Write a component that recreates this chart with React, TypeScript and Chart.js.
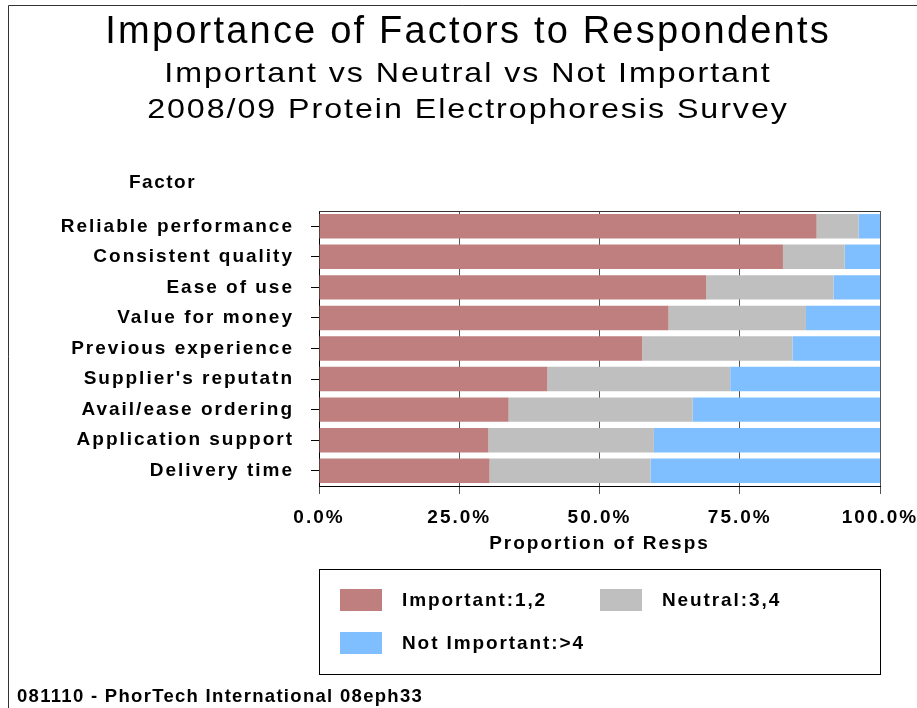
import React, { useEffect, useRef } from 'react';
import { Chart, registerables } from 'chart.js';

Chart.register(...registerables);

// ---- Data ----
const categories = [
  'Reliable performance',
  'Consistent quality',
  'Ease of use',
  'Value for money',
  'Previous experience',
  "Supplier's reputatn",
  'Avail/ease ordering',
  'Application support',
  'Delivery time',
];
const important = [88.7, 82.7, 69.0, 62.3, 57.6, 40.7, 33.8, 30.2, 30.4];
const neutral = [7.5, 11.0, 22.7, 24.5, 26.8, 32.6, 32.8, 29.5, 28.7];
const notImportant = [3.8, 6.3, 8.3, 13.2, 15.6, 26.7, 33.4, 40.3, 40.9];
const seriesLabels = ['Important:1,2', 'Neutral:3,4', 'Not Important:>4'];
const seriesColors = ['#BF7F7F', '#BFBFBF', '#7FBFFF'];

const titleText = 'Importance of Factors to Respondents';
const subtitleLines = ['Important vs Neutral vs Not Important', '2008/09 Protein Electrophoresis Survey'];
const yAxisTitle = 'Factor';
const xAxisTitle = 'Proportion of Resps';
const footerText = '081110 - PhorTech International 08eph33';
const xTickStep = 25;

const FAMILY = '"Liberation Sans", Arial, Helvetica, sans-serif';
const AXIS_SPACING = '2px';

function drawText(
  ctx: CanvasRenderingContext2D,
  text: string,
  x: number,
  y: number,
  font: string,
  spacing: number,
  align: CanvasTextAlign,
  baseline: CanvasTextBaseline,
  sx = 1
) {
  ctx.save();
  ctx.font = font;
  (ctx as any).letterSpacing = spacing + 'px';
  ctx.textAlign = align;
  ctx.textBaseline = baseline;
  ctx.fillStyle = '#000';
  const dx = align === 'center' ? spacing / 2 : align === 'right' ? spacing : 0;
  ctx.translate(x, y);
  ctx.scale(sx, 1);
  ctx.fillText(text, dx, 0);
  ctx.restore();
}

const spacingPlugin = {
  id: 'spacingPlugin',
  beforeLayout(chart: any) {
    chart.ctx.letterSpacing = AXIS_SPACING;
  },
  beforeDraw(chart: any) {
    chart.ctx.letterSpacing = AXIS_SPACING;
  },
};

const decorPlugin = {
  id: 'decorPlugin',
  afterDraw(chart: any) {
    const ctx: CanvasRenderingContext2D = chart.ctx;
    const area = chart.chartArea;
    ctx.save();
    (ctx as any).letterSpacing = '0px';
    // outer frame (left + top)
    ctx.strokeStyle = '#333';
    ctx.lineWidth = 1;
    ctx.beginPath();
    ctx.moveTo(8.5, 708);
    ctx.lineTo(8.5, 5.5);
    ctx.lineTo(917, 5.5);
    ctx.stroke();
    // plot top border
    ctx.strokeStyle = '#333';
    ctx.beginPath();
    ctx.moveTo(area.left, Math.round(area.top) + 0.5);
    ctx.lineTo(area.right, Math.round(area.top) + 0.5);
    ctx.stroke();
    ctx.restore();

    // titles
    const cx = 467;
    drawText(ctx, titleText, cx, 43, `38px ${FAMILY}`, 2.2, 'center', 'alphabetic');
    drawText(ctx, subtitleLines[0], cx, 82, `28px ${FAMILY}`, 1.7, 'center', 'alphabetic', 1.15);
    drawText(ctx, subtitleLines[1], cx, 118, `28px ${FAMILY}`, 1.7, 'center', 'alphabetic', 1.15);

    // y axis title
    drawText(ctx, yAxisTitle, 129, 183, `bold 19px ${FAMILY}`, 1.5, 'left', 'middle');

    // legend box
    const lx = 319, ly = 569, lw = 561, lh = 105;
    ctx.save();
    ctx.strokeStyle = '#000';
    ctx.lineWidth = 1;
    ctx.strokeRect(lx + 0.5, ly + 0.5, lw, lh);
    ctx.restore();
    const slots = [
      { x: 340, y: 589 },
      { x: 600, y: 589 },
      { x: 340, y: 632 },
    ];
    chart.data.datasets.forEach((ds: any, i: number) => {
      const s = slots[i];
      ctx.save();
      ctx.fillStyle = ds.backgroundColor;
      ctx.fillRect(s.x, s.y, 42, 22);
      ctx.restore();
      drawText(ctx, ds.label, s.x + 62, s.y + 12, `bold 19px ${FAMILY}`, 1.9, 'left', 'middle');
    });

    // footer
    drawText(ctx, footerText, 17, 697, `bold 18.5px ${FAMILY}`, 1.3, 'left', 'middle');
  },
};

export default function App() {
  const canvasRef = useRef<HTMLCanvasElement | null>(null);

  useEffect(() => {
    const canvas = canvasRef.current;
    if (!canvas) return;
    const axisFont = { family: FAMILY, size: 19, weight: 'bold' as const };
    const chart = new Chart(canvas, {
      type: 'bar',
      data: {
        labels: categories,
        datasets: [
          { label: seriesLabels[0], data: important, backgroundColor: seriesColors[0], borderWidth: 0 },
          { label: seriesLabels[1], data: neutral, backgroundColor: seriesColors[1], borderWidth: 0 },
          { label: seriesLabels[2], data: notImportant, backgroundColor: seriesColors[2], borderWidth: 0 },
        ],
      },
      options: {
        indexAxis: 'y',
        responsive: false,
        animation: false,
        devicePixelRatio: 1,
        datasets: { bar: { barPercentage: 0.8, categoryPercentage: 1.0 } },
        layout: { padding: { top: 211, left: 0, right: 37, bottom: 152 } },
        plugins: {
          legend: { display: false },
          title: { display: false },
          tooltip: { enabled: false },
        },
        scales: {
          x: {
            stacked: true,
            min: 0,
            max: 100,
            ticks: {
              stepSize: xTickStep,
              callback: (v: any) => Number(v).toFixed(1) + '%',
              font: axisFont,
              color: '#000',
              padding: 12,
              maxRotation: 0,
              autoSkip: false,
            },
            grid: { color: '#555', lineWidth: 1, tickLength: 8, tickColor: '#555' },
            border: { color: '#000' },
            title: {
              display: true,
              text: xAxisTitle,
              font: axisFont,
              color: '#000',
              padding: { top: 0, bottom: 1 },
            },
            afterFit: (s: any) => {
              s.height = 70;
              s.paddingLeft = 0;
              s.paddingRight = 0;
            },
          },
          y: {
            stacked: true,
            ticks: { font: axisFont, color: '#000', padding: 17 },
            grid: { drawOnChartArea: false, offset: false, tickLength: 8, color: '#000' },
            border: { color: '#000' },
            afterFit: (s: any) => {
              s.width = 319;
              s.paddingTop = 0;
              s.paddingBottom = 0;
            },
          },
        },
      },
      plugins: [spacingPlugin, decorPlugin],
    });
    return () => chart.destroy();
  }, []);

  return (
    <div style={{ position: 'absolute', left: 0, top: 0, width: 917, height: 708, background: '#fff' }}>
      <canvas ref={canvasRef} width={917} height={708} style={{ display: 'block' }} />
    </div>
  );
}
